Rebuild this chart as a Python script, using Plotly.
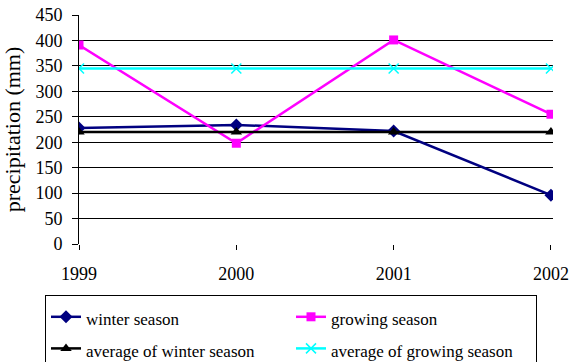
import plotly.graph_objects as go

years = [1999, 2000, 2001, 2002]
winter_season = [228, 234, 222, 96]
growing_season = [391, 198, 401, 255]
avg_winter_season = [220, 220, 220, 220]
avg_growing_season = [345, 345, 345, 345]
y_ticks = [0, 50, 100, 150, 200, 250, 300, 350, 400, 450]

FONT = "Liberation Serif, DejaVu Serif"


def legend_label(text):
    # legend row height follows legend.font.size; the label itself is drawn smaller
    return f'<span style="font-size:17px">{text}</span>'


fig = go.Figure()
fig.add_trace(go.Scatter(
    x=years, y=winter_season, name=legend_label("winter season"), mode="lines+markers",
    line=dict(color="#000080", width=2.5),
    marker=dict(symbol="diamond", size=10, color="#000080"),
))
fig.add_trace(go.Scatter(
    x=years, y=growing_season, name=legend_label("growing season"), mode="lines+markers",
    line=dict(color="#FF00FF", width=2.5),
    marker=dict(symbol="square", size=9, color="#FF00FF"),
))
fig.add_trace(go.Scatter(
    x=years, y=avg_winter_season, name=legend_label("average of winter season"), mode="lines+markers",
    line=dict(color="#000000", width=2.5),
    marker=dict(symbol="triangle-up", size=10, color="#000000"),
))
fig.add_trace(go.Scatter(
    x=years, y=avg_growing_season, name=legend_label("average of growing season"), mode="lines+markers",
    line=dict(color="#00FFFF", width=2.5),
    marker=dict(symbol="x-thin", size=10, line=dict(color="#00FFFF", width=1.5)),
))

fig.update_layout(
    width=578, height=362,
    margin=dict(l=79, r=25, t=15, b=118, autoexpand=False),
    paper_bgcolor="white", plot_bgcolor="white",
    font=dict(family=FONT, size=18, color="black"),
    xaxis=dict(
        range=[1999, 2002.013], tickvals=years, ticktext=[str(y) for y in years],
        showgrid=False, zeroline=False, showline=False,
        ticks="outside", ticklen=5, tickcolor="black", tickwidth=1,
        ticklabelstandoff=8,
    ),
    yaxis=dict(
        range=[0, 450], tickvals=y_ticks,
        showgrid=True, gridcolor="#000000", gridwidth=1,
        zeroline=False, showline=True, linecolor="black", linewidth=1,
        ticks="outside", ticklen=6, tickcolor="black",
        ticklabelstandoff=6,
        title=dict(text="precipitation (mm)", standoff=8),
    ),
    legend=dict(
        orientation="h", x=(45 - 79) / 474, xanchor="left",
        y=-(51 / 229), yanchor="top",
        bordercolor="black", borderwidth=1, bgcolor="white",
        entrywidth=200, entrywidthmode="pixels",
        itemwidth=30, font=dict(family=FONT, size=22),
    ),
    showlegend=True,
)

fig.write_html("out.html")
